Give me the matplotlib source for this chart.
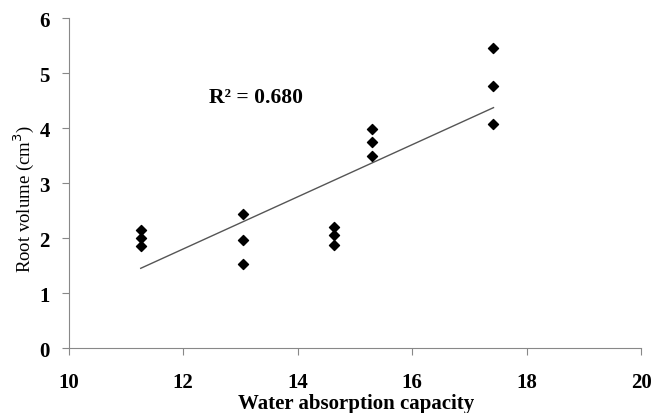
import numpy as np
import matplotlib.pyplot as plt

plt.rcParams['font.family'] = ['Liberation Serif', 'DejaVu Serif']

# Data
capacity = [11.26, 11.26, 11.26, 13.04, 13.04, 13.04, 14.64, 14.64, 14.64,
            15.29, 15.29, 15.29, 17.42, 17.42, 17.42]
root_volume = [2.15, 2.0, 1.85, 2.43, 1.97, 1.52, 2.2, 2.05, 1.88,
               3.98, 3.75, 3.5, 5.45, 4.77, 4.08]
x_ticks = [10, 12, 14, 16, 18, 20]
y_ticks = [0, 1, 2, 3, 4, 5, 6]

fig = plt.figure(figsize=(6.53, 4.14), dpi=100)
ax = fig.add_axes([0.105, 0.157, 0.877, 0.797])

ax.scatter(capacity, root_volume, marker='D', s=26, color='black', zorder=3)

# Linear trend line
slope, intercept = np.polyfit(capacity, root_volume, 1)
xs = np.array([min(capacity), max(capacity)])
ax.plot(xs, slope * xs + intercept, color='#555555', linewidth=1)

ax.text(12.45, 4.56, 'R² = 0.680', fontsize=15.5, fontweight='bold', va='center')

ax.set_xlim(10, 20)
ax.set_ylim(0, 6)
ax.set_xticks(x_ticks)
ax.set_yticks(y_ticks)
ax.tick_params(labelsize=15, color='#888888', length=5)
for lbl in ax.get_xticklabels() + ax.get_yticklabels():
    lbl.set_fontweight('bold')
ax.tick_params(axis='x', pad=12)
ax.tick_params(axis='y', pad=8.5)

for side in ['top', 'right']:
    ax.spines[side].set_visible(False)
for side in ['left', 'bottom']:
    ax.spines[side].set_color('#888888')

ax.set_xlabel('Water absorption capacity', fontsize=15, fontweight='bold')
ax.xaxis.set_label_coords(0.503, -0.135)
ax.set_ylabel('Root volume (cm$^3$)', fontsize=13.5)
ax.yaxis.set_label_coords(-0.056, 0.455)

fig.savefig('out.png', dpi=100)
